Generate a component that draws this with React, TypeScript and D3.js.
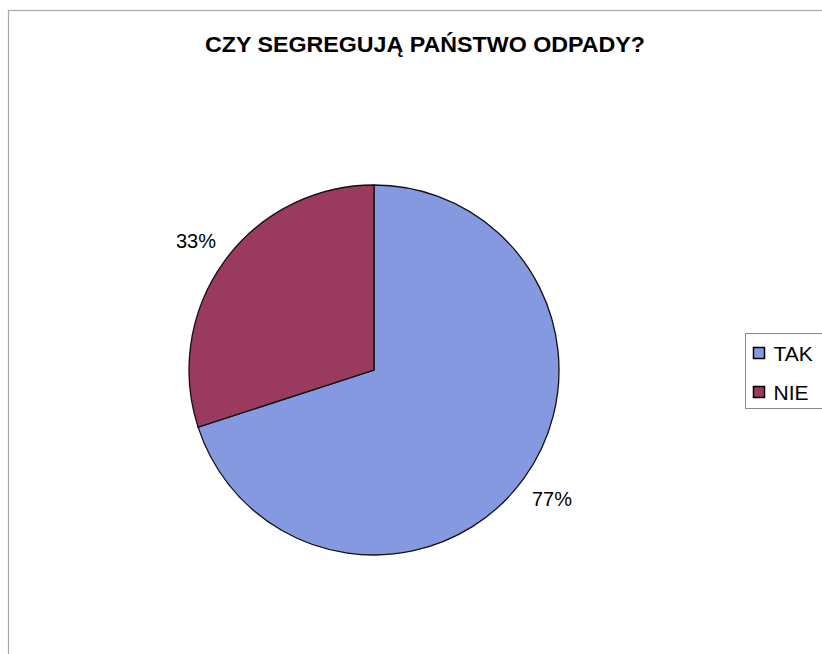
import { useEffect, useRef } from 'react'

import * as d3 from 'd3'

const categories = ['TAK', 'NIE']
const values = [77, 33]
const labels = ['77%', '33%']
const colors = ['#8599e0', '#9a3a5e']

const title = 'CZY SEGREGUJĄ PAŃSTWO ODPADY?'

const WIDTH = 822
const HEIGHT = 654

const App = () => {
  const ref = useRef<SVGSVGElement>(null)

  useEffect(() => {
    const svg = d3.select(ref.current)
    svg.selectAll('*').remove()

    // chart frame (only left and top show in the picture)
    svg
      .append('rect')
      .attr('x', 8.5)
      .attr('y', 10.5)
      .attr('width', WIDTH)
      .attr('height', HEIGHT)
      .attr('fill', '#fff')
      .attr('stroke', '#a8a8a8')
      .attr('stroke-width', 1.2)

    svg
      .append('text')
      .attr('x', 425)
      .attr('y', 52)
      .attr('text-anchor', 'middle')
      .attr('font-family', 'Liberation Sans, Arial, sans-serif')
      .attr('font-weight', 'bold')
      .attr('font-size', 22)
      .attr('textLength', 440)
      .attr('lengthAdjust', 'spacingAndGlyphs')
      .attr('fill', '#000')
      .text(title)

    const cx = 374
    const cy = 370
    const radius = 185

    const pie = d3
      .pie<number>()
      .sort(null)
      .value((d) => d)

    const arc = d3.arc<d3.PieArcDatum<number>>().innerRadius(0).outerRadius(radius)
    const labelArc = d3
      .arc<d3.PieArcDatum<number>>()
      .innerRadius(440)
      .outerRadius(0)

    const g = svg.append('g').attr('transform', `translate(${cx},${cy})`)
    const arcs = pie(values)

    g.selectAll('path')
      .data(arcs)
      .enter()
      .append('path')
      .attr('d', arc)
      .attr('fill', (_, i) => colors[i])
      .attr('stroke', '#111')
      .attr('stroke-width', 1.3)

    g.selectAll('text')
      .data(arcs)
      .enter()
      .append('text')
      .attr('transform', (d) => `translate(${labelArc.centroid(d)})`)
      .attr('text-anchor', 'middle')
      .attr('dy', '0.35em')
      .attr('font-family', 'Liberation Sans, Arial, sans-serif')
      .attr('font-size', 20)
      .attr('fill', '#000')
      .text((_, i) => labels[i])

    // legend
    const legend = svg.append('g').attr('transform', 'translate(745.5,333.5)')
    legend
      .append('rect')
      .attr('width', 100)
      .attr('height', 75)
      .attr('fill', '#fff')
      .attr('stroke', '#888')
      .attr('stroke-width', 1)

    const rowY = d3.scalePoint<string>().domain(categories).range([19, 58])

    categories.forEach((c, i) => {
      const y = rowY(c) as number
      legend
        .append('rect')
        .attr('x', 8)
        .attr('y', y - 5)
        .attr('width', 11)
        .attr('height', 11)
        .attr('fill', colors[i])
        .attr('stroke', '#000')
        .attr('stroke-width', 1.5)
      legend
        .append('text')
        .attr('x', 28)
        .attr('y', y + 8)
        .attr('font-family', 'Liberation Sans, Arial, sans-serif')
        .attr('font-size', 21)
        .attr('fill', '#000')
        .text(c)
    })
  }, [])

  return (
    <svg
      ref={ref}
      width={WIDTH}
      height={HEIGHT}
      style={{ position: 'absolute', left: 0, top: 0, background: '#fff' }}
    />
  )
}

export default App
